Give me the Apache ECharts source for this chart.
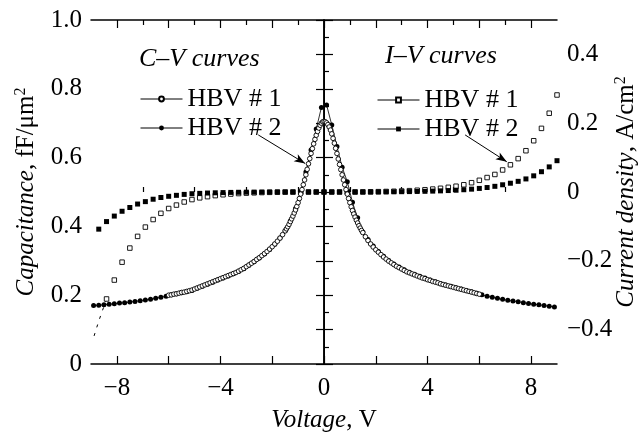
<!DOCTYPE html>
<html>
<head>
<meta charset="utf-8">
<script src="https://cdn.jsdelivr.net/npm/echarts@6.0.0/dist/echarts.min.js"></script>
<style>html,body{margin:0;background:#fff}#chart{width:642px;height:437px}</style>
</head>
<body>
<div id="chart"></div>
<script>
// C-V, HBV #1 (open circles), voltage V / capacitance fF/um2
const cvV1 = [-6.0,-5.9,-5.8,-5.7,-5.6,-5.5,-5.4,-5.3,-5.2,-5.1,-5.0,-4.9,-4.8,-4.7,-4.6,-4.5,-4.4,-4.3,-4.2,-4.1,
  -4.0,-3.9,-3.8,-3.7,-3.6,-3.5,-3.4,-3.3,-3.2,-3.1,-3.0,-2.9,-2.8,-2.7,-2.6,-2.5,-2.4,-2.3,-2.2,-2.1,
  -2.0,-1.9,-1.8,-1.7,-1.6,-1.5,-1.45,-1.4,-1.35,-1.3,-1.25,-1.2,-1.15,-1.1,-1.05,-1.0,-0.95,-0.9,-0.85,-0.8,
  -0.75,-0.7,-0.65,-0.6,-0.55,-0.5,-0.45,-0.4,-0.35,-0.3,-0.25,-0.2,-0.15,-0.1,-0.05,0,
  0.05,0.1,0.15,0.2,0.25,0.3,0.35,0.4,0.45,0.5,0.55,0.6,0.65,0.7,0.75,0.8,0.85,0.9,0.95,1.0,
  1.05,1.1,1.15,1.2,1.25,1.3,1.35,1.4,1.45,1.5,1.6,1.7,1.8,1.9,2.0,2.1,2.2,2.3,2.4,2.5,
  2.6,2.7,2.8,2.9,3.0,3.1,3.2,3.3,3.4,3.5,3.6,3.7,3.8,3.9,4.0,4.1,4.2,4.3,4.4,4.5,
  4.6,4.7,4.8,4.9,5.0,5.1,5.2,5.3,5.4,5.5,5.6,5.7,5.8,5.9,6.0];
const cvC1 = [0.200,0.201,0.203,0.204,0.206,0.208,0.209,0.211,0.213,0.215,0.218,0.221,0.224,0.227,0.230,0.233,0.236,0.239,0.242,0.245,
  0.248,0.251,0.254,0.257,0.260,0.263,0.266,0.270,0.274,0.278,0.283,0.288,0.293,0.298,0.304,0.309,0.315,0.321,0.327,0.334,
  0.341,0.349,0.357,0.366,0.376,0.387,0.393,0.399,0.406,0.414,0.422,0.430,0.439,0.448,0.458,0.469,0.481,0.494,0.507,0.521,
  0.535,0.550,0.566,0.582,0.597,0.612,0.626,0.640,0.653,0.665,0.676,0.686,0.694,0.700,0.704,0.705,
  0.704,0.701,0.696,0.689,0.680,0.669,0.656,0.642,0.627,0.612,0.596,0.580,0.565,0.550,0.535,0.521,0.507,0.494,0.481,0.469,
  0.457,0.446,0.436,0.427,0.418,0.410,0.402,0.395,0.388,0.382,0.370,0.359,0.349,0.340,0.332,0.325,0.318,0.311,0.305,0.299,
  0.294,0.289,0.284,0.280,0.276,0.272,0.268,0.265,0.262,0.259,0.256,0.253,0.250,0.248,0.245,0.243,0.240,0.238,0.236,0.233,
  0.231,0.229,0.227,0.225,0.223,0.221,0.219,0.217,0.215,0.213,0.211,0.209,0.207,0.205,0.203];

// C-V, HBV #2 (filled circles)
const cvV2 = [-8.9,-8.7,-8.5,-8.3,-8.1,-7.9,-7.7,-7.5,-7.3,-7.1,-6.9,-6.7,-6.5,-6.3,-6.1,-5.9,-5.7,-5.5,-5.3,-5.1,
  -4.9,-4.7,-4.5,-4.3,-4.1,-3.9,-3.7,-3.5,-3.3,-3.1,-2.9,-2.7,-2.5,-2.3,-2.1,-1.9,-1.7,-1.5,-1.3,-1.1,
  -0.9,-0.7,-0.5,-0.3,-0.1,0.1,0.3,0.5,0.7,0.9,1.1,1.3,1.5,1.7,1.9,2.1,2.3,2.5,2.7,2.9,
  3.1,3.3,3.5,3.7,3.9,4.1,4.3,4.5,4.7,4.9,5.1,5.3,5.5,5.7,5.9,6.1,6.3,6.5,6.7,6.9,
  7.1,7.3,7.5,7.7,7.9,8.1,8.3,8.5,8.7,8.9];
const cvC2 = [0.170,0.171,0.172,0.174,0.175,0.177,0.178,0.180,0.182,0.184,0.186,0.188,0.191,0.194,0.197,0.201,0.204,0.207,0.210,0.214,
  0.220,0.226,0.232,0.238,0.244,0.250,0.256,0.262,0.269,0.277,0.287,0.297,0.308,0.320,0.333,0.348,0.366,0.387,0.416,0.452,
  0.500,0.558,0.622,0.683,0.746,0.753,0.695,0.632,0.572,0.530,0.470,0.425,0.384,0.362,0.343,0.327,0.313,0.301,0.291,0.282,
  0.274,0.267,0.261,0.255,0.250,0.244,0.239,0.234,0.230,0.226,0.222,0.218,0.214,0.210,0.206,0.201,0.197,0.194,0.191,0.188,
  0.185,0.183,0.181,0.178,0.176,0.174,0.172,0.170,0.168,0.166];

// I-V, voltage grid shared by both diodes
const ivV = [-8.7,-8.4,-8.1,-7.8,-7.5,-7.2,-6.9,-6.6,-6.3,-6.0,-5.7,-5.4,-5.1,-4.8,-4.5,-4.2,-3.9,-3.6,-3.3,-3.0,
  -2.7,-2.4,-2.1,-1.8,-1.5,-1.2,-0.9,-0.6,-0.3,0,0.3,0.6,0.9,1.2,1.5,1.8,2.1,2.4,2.7,3.0,
  3.3,3.6,3.9,4.2,4.5,4.8,5.1,5.4,5.7,6.0,6.3,6.6,6.9,7.2,7.5,7.8,8.1,8.4,8.7,9.0];
// current density A/cm2, HBV #1 (open squares)
const ivJ1 = [null,-0.311,-0.256,-0.204,-0.163,-0.129,-0.102,-0.080,-0.062,-0.048,-0.038,-0.029,-0.022,-0.017,-0.0135,-0.0105,-0.008,-0.006,-0.0045,-0.0033,
  -0.0024,-0.0016,-0.001,-0.0006,-0.0003,-0.0001,0,0,0,0,0,0,0,0.0001,0.0003,0.0006,0.001,0.0015,0.0021,0.0029,
  0.0039,0.0051,0.0066,0.0085,0.0108,0.0136,0.0168,0.021,0.027,0.034,0.042,0.051,0.064,0.079,0.097,0.120,0.149,0.185,0.229,0.282];
// HBV #2 (filled squares)
const ivJ2 = [-0.108,-0.086,-0.070,-0.056,-0.045,-0.035,-0.028,-0.021,-0.016,-0.0125,-0.0097,-0.007,-0.005,-0.004,-0.003,-0.0023,-0.0017,-0.0012,-0.0008,-0.0005,
  -0.0003,-0.0002,-0.0001,0,0,0,0,0,0,0,0,0,0,0,0,0,0.0002,0.0004,0.0006,0.0009,
  0.0012,0.0016,0.002,0.0026,0.0033,0.0042,0.0052,0.0066,0.0083,0.0104,0.013,0.0165,0.021,0.0255,0.031,0.038,0.047,0.059,0.073,0.091];
// dashed tail of HBV #1 I-V below -8.4 V
const ivTailV = [-8.4,-8.7,-8.95];
const ivTailJ = [-0.311,-0.375,-0.435];

const xLabels = [-8,-4,0,4,8];
const xMajor = [-8,-6,-4,-2,0,2,4,6,8];
const xMinor = [-7,-5,-3,-1,1,3,5,7];
const cLabels = [0,0.2,0.4,0.6,0.8,1.0];
const jLabels = [-0.4,-0.2,0,0.2,0.4];

const legendNames = {cv1:'HBV # 1', cv2:'HBV # 2', iv1:'HBV # 1', iv2:'HBV # 2'};

function zip(xs, ys) {
  const out = [];
  xs.forEach((x, i) => { if (ys[i] != null) out.push([x, ys[i]]); });
  return out;
}
function minus(s) { return String(s).replace('-', '\u2212'); }

const serif = '"Liberation Serif", "Times New Roman", Times, serif';
const black = '#000';
const txt = {color: black, fontFamily: serif, fontSize: 25};
const nameRich = {
  i: {...txt, fontStyle: 'italic', lineHeight: 26},
  s: {...txt, fontSize: 16, lineHeight: 16, verticalAlign: 'top'}
};

function xAxisOf(pos, ticks, len, showLine, showLabel) {
  return {
    type: 'value', position: pos, min: -9, max: 9,
    axisLine: {show: showLine, lineStyle: {color: black, width: 1.5}},
    axisTick: {inside: true, length: len, customValues: ticks, lineStyle: {color: black, width: 1.2}},
    axisLabel: {show: showLabel, customValues: xLabels, margin: 12, formatter: minus, ...txt},
    splitLine: {show: false}
  };
}

const xBottom = xAxisOf('bottom', xMajor, 8, true, true);
xBottom.name = '{i|Voltage}, V';
xBottom.nameLocation = 'middle';
xBottom.nameGap = 43;
xBottom.nameMoveOverlap = false;
xBottom.nameTextStyle = {...txt, rich: nameRich};

const chart = echarts.init(document.getElementById('chart'));
chart.setOption({
  animation: false,
  backgroundColor: '#fff',
  grid: {left: 91, right: 85, top: 20, bottom: 73, outerBoundsMode: 'none'},
  xAxis: [
    xBottom,
    xAxisOf('bottom', xMinor, 5, false, false),
    xAxisOf('top', xMajor, 8, true, false),
    xAxisOf('top', xMinor, 5, false, false)
  ],
  yAxis: [
    {
      type: 'value', position: 'left', min: 0, max: 1, interval: 0.1,
      name: '{i|Capacitance}, fF/\u03bcm{s|2}', nameLocation: 'middle', nameGap: 52, nameRotate: 90,
      nameMoveOverlap: false,
      nameTextStyle: {...txt, lineHeight: 26, rich: nameRich},
      axisLine: {show: true, lineStyle: {color: black, width: 1.5}},
      axisTick: {inside: true, length: 9, lineStyle: {color: black, width: 1.2}},
      minorTick: {show: true, splitNumber: 2, length: 5, lineStyle: {color: black, width: 1.2}},
      axisLabel: {customValues: cLabels, margin: 9, formatter: v => v === 0 ? '0' : v.toFixed(1), ...txt},
      splitLine: {show: false}
    },
    {
      type: 'value', position: 'right', min: -0.5, max: 0.5, interval: 0.1,
      name: '{i|Current density}, A/cm{s|2}', nameLocation: 'middle', nameGap: 56, nameRotate: 90,
      nameMoveOverlap: false,
      nameTextStyle: {...txt, lineHeight: 26, rich: nameRich},
      axisLine: {show: true, lineStyle: {color: black, width: 1.5}},
      axisTick: {inside: true, length: 8, lineStyle: {color: black, width: 1.2}},
      axisLabel: {customValues: jLabels, margin: 10, formatter: v => v === 0 ? '0' : minus(v.toFixed(1)), ...txt},
      splitLine: {show: false}
    }
  ],
  legend: [
    {
      data: ['cv1', 'cv2'], left: 135, top: 81, orient: 'vertical', selectedMode: false,
      itemWidth: 42, itemHeight: 6, itemGap: 3,
      formatter: n => legendNames[n],
      lineStyle: {color: black, width: 1, opacity: 1},
      textStyle: {...txt, fontSize: 26, lineHeight: 20}
    },
    {
      data: ['iv1', 'iv2'], left: 372, top: 82, orient: 'vertical', selectedMode: false,
      itemWidth: 42, itemHeight: 6, itemGap: 3,
      formatter: n => legendNames[n],
      lineStyle: {color: black, width: 1, opacity: 1},
      textStyle: {...txt, fontSize: 26, lineHeight: 20}
    }
  ],
  graphic: [
    {type: 'text', left: 139, top: 46, style: {text: 'C\u2013V curves', font: 'italic 26px "Liberation Serif", "Times New Roman", serif', fill: black}},
    {type: 'text', left: 385, top: 43, style: {text: 'I\u2013V curves', font: 'italic 26px "Liberation Serif", "Times New Roman", serif', fill: black}}
  ],
  series: [
    {
      name: 'iv1', type: 'line', yAxisIndex: 1, data: zip(ivV, ivJ1),
      symbol: 'rect', symbolSize: 4.5,
      itemStyle: {color: '#fff', borderColor: black, borderWidth: 0.9},
      lineStyle: {width: 0, opacity: 0}, z: 2
    },
    {
      name: 'iv1tail', type: 'line', yAxisIndex: 1, data: zip(ivTailV, ivTailJ),
      symbol: 'none', lineStyle: {color: black, width: 1, type: [3, 6]}, z: 2
    },
    {
      name: 'iv2', type: 'line', yAxisIndex: 1, data: zip(ivV, ivJ2),
      symbol: 'rect', symbolSize: 5,
      itemStyle: {color: black, borderColor: black, borderWidth: 0},
      lineStyle: {width: 0, opacity: 0}, z: 3
    },
    {
      name: 'cv2', type: 'line', yAxisIndex: 0, data: zip(cvV2, cvC2),
      symbol: 'circle', symbolSize: 5,
      itemStyle: {color: black, borderColor: black, borderWidth: 0},
      lineStyle: {color: black, width: 0.8}, z: 4,
      markLine: {
        silent: true, symbol: ['none', 'arrow'], symbolSize: [6, 11],
        label: {show: false}, lineStyle: {color: black, width: 1, type: 'solid'},
        data: [
          [{coord: [-2.54, 0.666]}, {coord: [-0.73, 0.583]}],
          [{coord: [5.45, 0.666]}, {coord: [7.06, 0.588]}]
        ]
      }
    },
    {
      name: 'cv1', type: 'line', yAxisIndex: 0, data: zip(cvV1, cvC1),
      symbol: 'circle', symbolSize: 4.6,
      itemStyle: {color: '#fff', borderColor: black, borderWidth: 0.9},
      lineStyle: {color: black, width: 0.8}, z: 5,
      markLine: {
        silent: true, symbol: 'none', label: {show: false},
        lineStyle: {color: black, width: 1, type: 'solid'},
        data: [{xAxis: 0}]
      }
    }
  ]
});
</script>
</body>
</html>
